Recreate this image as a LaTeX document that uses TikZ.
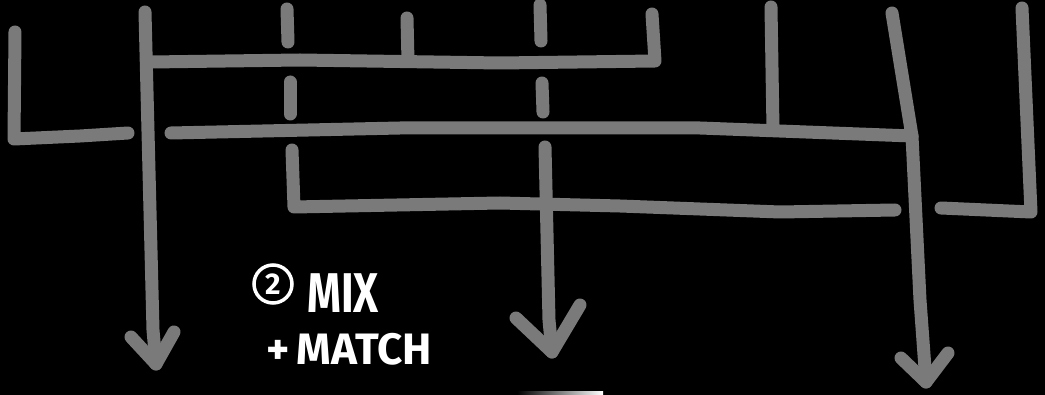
\documentclass[tikz,border=0pt]{standalone}
\usepackage{fontspec}
\setmainfont{Fira Sans}
\usepackage{tikz}
\usetikzlibrary{positioning,calc}
\definecolor{mygray}{RGB}{122,122,122}

\begin{document}
\begin{tikzpicture}[x=1pt, y=-1pt, node distance=6pt]
    \tikzstyle{wire}=[draw=mygray, line width=13pt, line cap=round, line join=round]
    \tikzstyle{label}=[text=white, inner sep=0pt, anchor=base west]
    \fill[black] (0,0) rectangle (1045,395);
    \useasboundingbox (0,0) rectangle (1045,395);
    % left column with arrow
    \coordinate (c1top) at (145,12);
    \coordinate (c1tip) at (156,364);
    \coordinate (c1l) at (131,337);
    \coordinate (c1r) at (174,332);
    \draw[wire] (c1top) -- (153,330) -- (c1tip);
    \draw[wire] (c1l) -- (c1tip) -- (c1r);
    % top rail
    \coordinate (ra) at (151,62);
    \coordinate (rb) at (655,61);
    \coordinate (rbtop) at (652,14);
    \coordinate (tick) at (407,18);
    \draw[wire] (ra) -- (300,60) -- (500,63) -- (rb) -- (rbtop);
    \draw[wire] (tick) -- (408,61);
    % dashed column into bottom rail
    \draw[wire] (287,9) -- (288,42);
    \draw[wire] (290,82) -- (290,114);
    \coordinate (d1) at (292,150);
    \coordinate (d1c) at (294,207);
    \coordinate (lowend) at (895,210);
    \draw[wire] (d1) -- (d1c) -- (500,203) -- (620,206) -- (780,212) -- (lowend);
    % dashed column with arrow
    \draw[wire] (540,5) -- (541,41);
    \draw[wire] (542,83) -- (543,112);
    \coordinate (c2top) at (545,147);
    \coordinate (c2tip) at (552,352);
    \coordinate (c2l) at (516,318);
    \coordinate (c2r) at (580,305);
    \draw[wire] (c2top) -- (549,320) -- (c2tip);
    \draw[wire] (c2l) -- (c2tip) -- (c2r);
    % middle rail
    \coordinate (mtop) at (15,32);
    \coordinate (mcorner) at (14,139);
    \coordinate (mgap) at (128,133);
    \draw[wire] (mtop) -- (mcorner) -- (80,136) -- (mgap);
    \coordinate (mstart) at (171,133);
    \coordinate (mjoin) at (912,136);
    \draw[wire] (mstart) -- (400,128) -- (700,128) -- (mjoin);
    \draw[wire] (771,7) -- (773,129);
    % right column with arrow
    \coordinate (c3top) at (892,13);
    \coordinate (c3tip) at (926,382);
    \coordinate (c3l) at (901,358);
    \coordinate (c3r) at (948,353);
    \draw[wire] (c3top) -- (mjoin) -- (920,300) -- (c3tip);
    \draw[wire] (c3l) -- (c3tip) -- (c3r);
    % bottom right hook
    \coordinate (hstart) at (941,208);
    \coordinate (hcorner) at (1031,212);
    \coordinate (htop) at (1022,8);
    \draw[wire] (hstart) -- (hcorner) -- (htop);
    % caption
    \node[circle, draw=white, line width=3.5pt, minimum size=38pt, inner sep=0pt,
          text=white, font=\bfseries\fontsize{30}{32}\selectfont] (num) at (273,284) {2};
    \node[label, font=\bfseries\fontsize{56}{60}\selectfont] (mix) at (307,313) {\scalebox{0.77}[1]{MIX}};
    \node[label, font=\bfseries\fontsize{44}{48}\selectfont] (match) at (266,365) {+\,MATCH};
    \shade[left color=black, right color=white] (517,392) rectangle (603,395);
\end{tikzpicture}
\end{document}
